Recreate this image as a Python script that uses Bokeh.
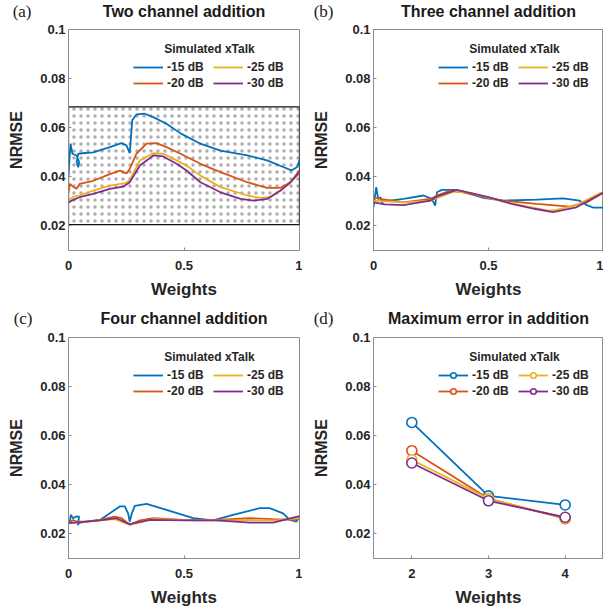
from bokeh.plotting import figure
from bokeh.models import (Label, Legend, LegendItem, BoxAnnotation, FixedTicker,
                          Range1d, CustomJSTickFormatter)
from bokeh.layouts import row, column
from bokeh.embed import file_html
from bokeh.resources import INLINE

# ---------------- data ----------------
series_labels = ["-15 dB", "-20 dB", "-25 dB", "-30 dB"]
series_colors = ["#0072BD", "#D95319", "#EDB120", "#7E2F8E"]

# (a) Two channel addition
xa_15 = [0.0, 0.004, 0.009, 0.017, 0.035, 0.046, 0.042, 0.035, 0.042, 0.06, 0.107, 0.179, 0.229, 0.251,
         0.265, 0.276, 0.294, 0.33, 0.367, 0.424, 0.485, 0.571, 0.658, 0.774, 0.86, 0.932, 0.965, 0.99, 1.0]
ya_15 = [0.0405, 0.047, 0.0535, 0.0494, 0.0487, 0.046, 0.0439, 0.046, 0.0494, 0.0496, 0.050, 0.0521, 0.0537,
         0.0528, 0.0496, 0.063, 0.0654, 0.0657, 0.0643, 0.0616, 0.0577, 0.0535, 0.0507, 0.0487, 0.0467, 0.0439,
         0.0426, 0.044, 0.0467]
xa_20 = [0.0, 0.006, 0.02, 0.035, 0.048, 0.107, 0.179, 0.222, 0.251, 0.265, 0.294, 0.338, 0.381, 0.424,
         0.485, 0.571, 0.658, 0.774, 0.86, 0.918, 0.961, 1.0]
ya_20 = [0.0335, 0.0371, 0.036, 0.0351, 0.0371, 0.0384, 0.0411, 0.0425, 0.0414, 0.0432, 0.0494, 0.0535,
         0.0537, 0.0521, 0.0494, 0.0453, 0.0419, 0.0378, 0.0355, 0.0355, 0.0378, 0.0426]
xa_25 = [0.0, 0.02, 0.048, 0.107, 0.179, 0.244, 0.265, 0.309, 0.367, 0.41, 0.468, 0.511, 0.571, 0.658,
         0.774, 0.831, 0.874, 0.918, 0.961, 1.0]
ya_25 = [0.0306, 0.0318, 0.0325, 0.0344, 0.0364, 0.0374, 0.0385, 0.0467, 0.0496, 0.0494, 0.0467, 0.0446,
         0.0405, 0.0358, 0.0324, 0.0314, 0.0318, 0.0344, 0.0378, 0.0415]
xa_30 = [0.0, 0.02, 0.048, 0.107, 0.179, 0.237, 0.265, 0.309, 0.367, 0.41, 0.468, 0.511, 0.571, 0.658,
         0.745, 0.802, 0.86, 0.918, 0.961, 1.0]
ya_30 = [0.0296, 0.0306, 0.0317, 0.0331, 0.0351, 0.036, 0.0378, 0.0446, 0.0487, 0.0483, 0.0453, 0.0426,
         0.0378, 0.0337, 0.031, 0.0303, 0.031, 0.0344, 0.0378, 0.0419]

# (b) Three channel addition
xb_15 = [0.0, 0.005, 0.012, 0.02, 0.03, 0.04, 0.035, 0.045, 0.07, 0.131, 0.218, 0.254, 0.268, 0.276,
         0.297, 0.348, 0.42, 0.478, 0.564, 0.709, 0.824, 0.896, 0.925, 0.954, 1.0]
yb_15 = [0.0276, 0.031, 0.0358, 0.031, 0.0317, 0.029, 0.0302, 0.0305, 0.0303, 0.031, 0.0324, 0.031, 0.0283,
         0.0337, 0.0347, 0.0347, 0.0331, 0.0314, 0.0303, 0.0307, 0.0312, 0.0303, 0.0286, 0.0275, 0.0275]
xb_20 = [0.0, 0.03, 0.131, 0.247, 0.276, 0.333, 0.391, 0.478, 0.564, 0.709, 0.853, 0.925, 1.0]
yb_20 = [0.0315, 0.031, 0.0296, 0.031, 0.0324, 0.0344, 0.0337, 0.0318, 0.0303, 0.029, 0.0279, 0.0295, 0.0335]
xb_25 = [0.0, 0.131, 0.247, 0.348, 0.42, 0.564, 0.709, 0.76, 0.795, 0.882, 1.0]
yb_25 = [0.0303, 0.0296, 0.0303, 0.034, 0.0335, 0.0299, 0.0272, 0.0262, 0.0265, 0.0285, 0.034]
xb_30 = [0.0, 0.05, 0.131, 0.247, 0.276, 0.362, 0.42, 0.5, 0.6, 0.7, 0.78, 0.882, 1.0]
yb_30 = [0.0296, 0.0288, 0.0285, 0.0303, 0.032, 0.0347, 0.0335, 0.0317, 0.029, 0.027, 0.0256, 0.0276, 0.0336]

# (c) Four channel addition
xc_15 = [0.0, 0.006, 0.01, 0.02, 0.035, 0.046, 0.04, 0.046, 0.078, 0.136, 0.179, 0.222, 0.244, 0.258,
         0.265, 0.274, 0.287, 0.338, 0.424, 0.54, 0.626, 0.713, 0.828, 0.871, 0.929, 0.958, 0.987, 1.0]
yc_15 = [0.0244, 0.025, 0.0278, 0.0264, 0.0272, 0.027, 0.0237, 0.0245, 0.025, 0.0257, 0.0284, 0.0312,
         0.0312, 0.0284, 0.025, 0.0284, 0.0314, 0.0322, 0.0298, 0.0264, 0.0255, 0.0278, 0.0305, 0.0305,
         0.0284, 0.0257, 0.025, 0.0271]
xc_20 = [0.0, 0.02, 0.035, 0.078, 0.136, 0.2, 0.23, 0.265, 0.309, 0.367, 0.496, 0.64, 0.785, 0.886, 0.98, 1.0]
yc_20 = [0.0244, 0.0257, 0.025, 0.025, 0.0257, 0.0271, 0.0264, 0.0237, 0.0255, 0.0264, 0.0257, 0.0257,
         0.0264, 0.026, 0.0257, 0.0264]
xc_25 = [0.0, 0.078, 0.2, 0.265, 0.367, 0.55, 0.75, 0.9, 1.0]
yc_25 = [0.0244, 0.025, 0.026, 0.0237, 0.026, 0.0255, 0.0255, 0.0255, 0.0264]
xc_30 = [0.0, 0.136, 0.208, 0.265, 0.352, 0.5, 0.64, 0.785, 0.886, 1.0]
yc_30 = [0.0244, 0.0255, 0.0264, 0.024, 0.0257, 0.0255, 0.0255, 0.0246, 0.0246, 0.0273]

# (d) Maximum error in addition
channels = [2, 3, 4]
max_15 = [0.0654, 0.0355, 0.0318]
max_20 = [0.0539, 0.0344, 0.0262]
max_25 = [0.0502, 0.0344, 0.0264]
max_30 = [0.0489, 0.0335, 0.0268]

panel_letters = ["(a)", "(b)", "(c)", "(d)"]
panel_titles = ["Two channel addition", "Three channel addition", "Four channel addition",
                "Maximum error in addition"]
y_ticks = [0.02, 0.04, 0.06, 0.08, 0.1]
w_ticks = [0, 0.5, 1]

# ---------------- styling ----------------
FONT = "Liberation Sans"
TXT = "#262626"
AXC = "#8c8c8c"
YMIN, YMAX = 0.01, 0.1


def make_header(letter, title, width, height, bl, br, letter_standoff, text_y):
    # strip above each panel: letter as a tick label on the left, title centred over the frame
    h = figure(width=width, height=height, x_range=Range1d(0, 1), y_range=Range1d(0, height),
               x_axis_type=None, output_backend="svg", toolbar_location=None,
               min_border_left=bl, min_border_right=br, min_border_top=0, min_border_bottom=0,
               outline_line_color=None)
    h.grid.visible = False
    ax = h.yaxis[0]
    ax.ticker = FixedTicker(ticks=[text_y])
    ax.formatter = CustomJSTickFormatter(code="return %r;" % letter)
    ax.axis_line_color = None
    ax.major_tick_line_color = None
    ax.minor_tick_line_color = None
    ax.major_tick_in = 0
    ax.major_tick_out = 0
    ax.major_label_standoff = letter_standoff
    ax.major_label_text_font = "Liberation Serif"
    ax.major_label_text_font_size = "17px"
    ax.major_label_text_color = "#1a1a1a"
    h.add_layout(Label(x=0.5, y=text_y, text=title, text_align="center",
                       text_baseline="middle", text_font=FONT, text_font_style="bold",
                       text_font_size="16px", text_color="#1a1a1a"))
    return h


def make_panel(xr, xticks, width, height, bl, bt, bb, br):
    p = figure(width=width, height=height, x_range=Range1d(*xr), y_range=Range1d(YMIN, YMAX),
               output_backend="svg", toolbar_location=None,
               min_border_left=bl, min_border_top=bt, min_border_bottom=bb, min_border_right=br)
    p.grid.visible = False
    p.outline_line_color = AXC
    p.outline_line_width = 1
    fmt = CustomJSTickFormatter(code="return String(tick);")
    p.xaxis.ticker = FixedTicker(ticks=xticks)
    p.yaxis.ticker = FixedTicker(ticks=y_ticks)
    p.xaxis.formatter = fmt
    p.yaxis.formatter = fmt
    for ax in (p.xaxis[0], p.yaxis[0]):
        ax.axis_line_color = AXC
        ax.major_tick_line_color = AXC
        ax.minor_tick_line_color = None
        ax.major_tick_in = 3
        ax.major_tick_out = 0
        ax.major_label_text_font = FONT
        ax.major_label_text_font_style = "bold"
        ax.major_label_text_font_size = "13px"
        ax.major_label_text_color = TXT
        ax.axis_label_text_font = FONT
        ax.axis_label_text_font_style = "bold"
        ax.axis_label_text_color = TXT
    p.xaxis.axis_label = "Weights"
    p.xaxis.axis_label_text_font_size = "17px"
    p.xaxis.major_label_standoff = 10
    p.xaxis.axis_label_standoff = 7
    p.yaxis.axis_label = "NRMSE"
    p.yaxis.axis_label_text_font_size = "16px"
    p.yaxis.major_label_standoff = 3
    p.yaxis.axis_label_standoff = 12

    xspan = xr[1] - xr[0]
    fw = width - bl - br
    fh = height - bt - bb
    per_px_y = (YMAX - YMIN) / fh
    per_px_x = xspan / fw
    p.add_layout(Label(x=xr[0] + 141 * per_px_x, y=YMAX - 19.5 * per_px_y, text="Simulated xTalk",
                       text_align="center", text_baseline="middle", text_font=FONT,
                       text_font_style="bold", text_font_size="12px", text_color=TXT))
    return p, fh


def add_legend(p, fh, renderers):
    items = [LegendItem(label=lab, renderers=r) for lab, r in zip(series_labels, renderers)]
    leg = Legend(items=items, location=(65, fh - 61), ncols=2,
                 label_text_font=FONT, label_text_font_style="bold", label_text_font_size="12px",
                 label_text_color=TXT, glyph_width=30, glyph_height=14, label_height=14,
                 label_width=44, label_standoff=4, spacing=2, padding=0, margin=0,
                 border_line_alpha=0, background_fill_alpha=0)
    p.add_layout(leg, "center")


LW = 1.8
TOP_H, TOP_HEAD = 305, 21
BOT_H, BOT_HEAD = 306, 24

# (a)
ha = make_header(panel_letters[0], panel_titles[0], 302, TOP_HEAD, 68, 3, 37, 10)
pa, fha = make_panel((0, 1), w_ticks, 302, TOP_H - TOP_HEAD, 68, 8, 55, 3)
pa.add_layout(BoxAnnotation(bottom=0.0205, top=0.0685, fill_alpha=0, hatch_pattern="dot",
                            hatch_color="#333333", hatch_scale=7, hatch_weight=0.5, hatch_alpha=0.4,
                            line_color="#111111", line_alpha=1.0, line_width=1.3, level="underlay"))
ra = []
for xs, ys, c in zip([xa_15, xa_20, xa_25, xa_30], [ya_15, ya_20, ya_25, ya_30], series_colors):
    ra.append([pa.line(xs, ys, line_color=c, line_width=LW)])
add_legend(pa, fha, ra)

# (b)
hb = make_header(panel_letters[1], panel_titles[1], 301, TOP_HEAD, 71, 0, 40, 10)
pb, fhb = make_panel((0, 1), w_ticks, 301, TOP_H - TOP_HEAD, 71, 8, 55, 0)
rb = []
for xs, ys, c in zip([xb_15, xb_20, xb_25, xb_30], [yb_15, yb_20, yb_25, yb_30], series_colors):
    rb.append([pb.line(xs, ys, line_color=c, line_width=LW)])
add_legend(pb, fhb, rb)

# (c)
hc = make_header(panel_letters[2], panel_titles[2], 302, BOT_HEAD, 68, 3, 36, 11)
pc, fhc = make_panel((0, 1), w_ticks, 302, BOT_H - BOT_HEAD, 68, 8, 53, 3)
rc = []
for xs, ys, c in zip([xc_15, xc_20, xc_25, xc_30], [yc_15, yc_20, yc_25, yc_30], series_colors):
    rc.append([pc.line(xs, ys, line_color=c, line_width=LW)])
add_legend(pc, fhc, rc)

# (d)
hd = make_header(panel_letters[3], panel_titles[3], 301, BOT_HEAD, 71, 0, 40, 11)
pd_, fhd = make_panel((1.5, 4.5), channels, 301, BOT_H - BOT_HEAD, 71, 8, 53, 0)
rd = []
for ys, c in zip([max_15, max_20, max_25, max_30], series_colors):
    l = pd_.line(channels, ys, line_color=c, line_width=LW)
    s = pd_.scatter(channels, ys, marker="circle", size=10, line_color=c, line_width=1.6,
                    fill_color="white")
    rd.append([l, s])
add_legend(pd_, fhd, rd)

layout = column(row(column(ha, pa), column(hb, pb)), row(column(hc, pc), column(hd, pd_)))
open("out.html", "w").write(file_html(layout, INLINE))
